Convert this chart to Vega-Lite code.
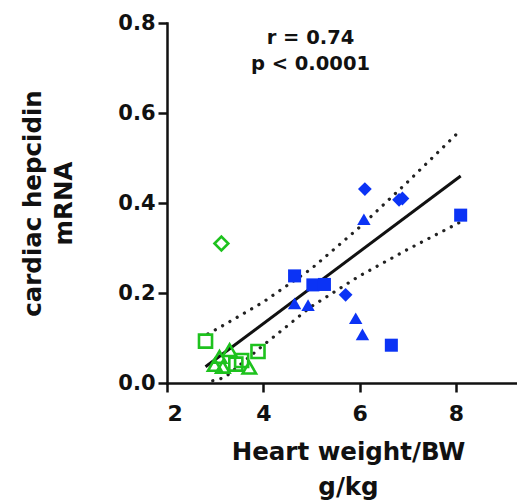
{
  "$schema": "https://vega.github.io/schema/vega-lite/v6.json",
  "autosize": "none",
  "width": 350,
  "height": 360,
  "padding": {"left": 167, "top": 23, "right": 0, "bottom": 120},
  "background": "white",
  "config": {
    "view": {"stroke": null},
    "axis": {
      "labelFont": "DejaVu Sans", "labelFontWeight": "bold", "labelColor": "#111",
      "titleFont": "DejaVu Sans", "titleFontWeight": "bold", "titleColor": "#111",
      "domainColor": "#111", "tickColor": "#111", "domainWidth": 2.5, "tickWidth": 2.5,
      "grid": false, "domainCap": "square"
    }
  },
  "datasets": {
    "band": [
      {"x": 2.85, "y": 0.109, "band": "upper"},
      {"x": 3.0, "y": 0.118, "band": "upper"},
      {"x": 3.2, "y": 0.130, "band": "upper"},
      {"x": 4.0, "y": 0.180, "band": "upper"},
      {"x": 5.0, "y": 0.254, "band": "upper"},
      {"x": 6.0, "y": 0.346, "band": "upper"},
      {"x": 7.0, "y": 0.447, "band": "upper"},
      {"x": 8.1, "y": 0.562, "band": "upper"},
      {"x": 2.95, "y": 0.005, "band": "lower"},
      {"x": 3.2, "y": 0.012, "band": "lower"},
      {"x": 4.0, "y": 0.084, "band": "lower"},
      {"x": 5.0, "y": 0.170, "band": "lower"},
      {"x": 6.0, "y": 0.238, "band": "lower"},
      {"x": 7.0, "y": 0.297, "band": "lower"},
      {"x": 8.1, "y": 0.358, "band": "lower"}
    ],
    "fit": [
      {"x": 2.8, "y": 0.036},
      {"x": 8.1, "y": 0.460}
    ],
    "green": [
      {"x": 3.13, "y": 0.310, "shape": "diamond"},
      {"x": 2.80, "y": 0.093, "shape": "square"},
      {"x": 3.89, "y": 0.070, "shape": "square"},
      {"x": 3.30, "y": 0.073, "shape": "triangle"},
      {"x": 3.09, "y": 0.058, "shape": "triangle"},
      {"x": 2.99, "y": 0.040, "shape": "triangle"},
      {"x": 3.16, "y": 0.036, "shape": "triangle"},
      {"x": 3.43, "y": 0.042, "shape": "square"},
      {"x": 3.55, "y": 0.050, "shape": "square"},
      {"x": 3.71, "y": 0.034, "shape": "triangle"}
    ],
    "blue": [
      {"x": 6.11, "y": 0.431, "shape": "diamond"},
      {"x": 6.89, "y": 0.410, "shape": "diamond"},
      {"x": 6.82, "y": 0.407, "shape": "diamond"},
      {"x": 6.09, "y": 0.364, "shape": "triangle"},
      {"x": 8.10, "y": 0.373, "shape": "square"},
      {"x": 4.65, "y": 0.238, "shape": "square"},
      {"x": 5.03, "y": 0.218, "shape": "square"},
      {"x": 5.27, "y": 0.219, "shape": "square"},
      {"x": 4.65, "y": 0.177, "shape": "triangle"},
      {"x": 4.93, "y": 0.173, "shape": "triangle"},
      {"x": 5.71, "y": 0.196, "shape": "diamond"},
      {"x": 5.92, "y": 0.144, "shape": "triangle"},
      {"x": 6.06, "y": 0.108, "shape": "triangle"},
      {"x": 6.66, "y": 0.084, "shape": "square"}
    ],
    "notes": [
      {"x": 4.98, "y": 0.767, "label": "r = 0.74"},
      {"x": 4.98, "y": 0.709, "label": "p < 0.0001"}
    ]
  },
  "layer": [
    {
      "data": {"name": "band"},
      "mark": {"type": "line", "color": "#222", "strokeWidth": 3.2, "strokeCap": "round", "strokeDash": [0.1, 8.3]},
      "encoding": {
        "x": {"field": "x", "type": "quantitative", "scale": {"domain": [2, 9.27], "nice": false, "zero": false},
          "axis": {"values": [2, 4, 6, 8], "format": "d", "labelFontSize": 22, "tickSize": 9, "labelPadding": 11,
            "title": ["Heart weight/BW", "g/kg"], "titleFontSize": 24.5, "titleLineHeight": 35, "titlePadding": 16, "titleX": 181}},
        "y": {"field": "y", "type": "quantitative", "scale": {"domain": [0, 0.8], "nice": false},
          "axis": {"values": [0, 0.2, 0.4, 0.6, 0.8], "format": ".1f", "labelFontSize": 21, "tickSize": 9, "labelPadding": 3,
            "title": ["cardiac hepcidin", "mRNA"], "titleFontSize": 24.5, "titleLineHeight": 31, "titlePadding": 41}},
        "detail": {"field": "band"}
      }
    },
    {
      "data": {"name": "fit"},
      "mark": {"type": "line", "color": "#111", "strokeWidth": 3},
      "encoding": {
        "x": {"field": "x", "type": "quantitative"},
        "y": {"field": "y", "type": "quantitative"}
      }
    },
    {
      "data": {"name": "green"},
      "mark": {"type": "point", "filled": false, "color": "#1ec21e", "strokeWidth": 2.6, "opacity": 1},
      "encoding": {
        "x": {"field": "x", "type": "quantitative"},
        "y": {"field": "y", "type": "quantitative"},
        "shape": {"field": "shape", "type": "nominal", "scale": {"domain": ["square", "triangle", "diamond"], "range": ["square", "triangle-up", "diamond"]}, "legend": null},
        "size": {"field": "shape", "type": "nominal", "scale": {"domain": ["square", "triangle", "diamond"], "range": [170, 190, 110]}, "legend": null}
      }
    },
    {
      "data": {"name": "blue"},
      "mark": {"type": "point", "filled": true, "color": "#0b33f5", "opacity": 1},
      "encoding": {
        "x": {"field": "x", "type": "quantitative"},
        "y": {"field": "y", "type": "quantitative"},
        "shape": {"field": "shape", "type": "nominal", "scale": {"domain": ["square", "triangle", "diamond"], "range": ["square", "triangle-up", "diamond"]}, "legend": null},
        "size": {"field": "shape", "type": "nominal", "scale": {"domain": ["square", "triangle", "diamond"], "range": [200, 200, 190]}, "legend": null}
      }
    },
    {
      "data": {"name": "notes"},
      "mark": {"type": "text", "font": "DejaVu Sans", "fontWeight": "bold", "fontSize": 19.5, "color": "#111", "baseline": "middle", "align": "center"},
      "encoding": {
        "x": {"field": "x", "type": "quantitative"},
        "y": {"field": "y", "type": "quantitative"},
        "text": {"field": "label"}
      }
    }
  ]
}
